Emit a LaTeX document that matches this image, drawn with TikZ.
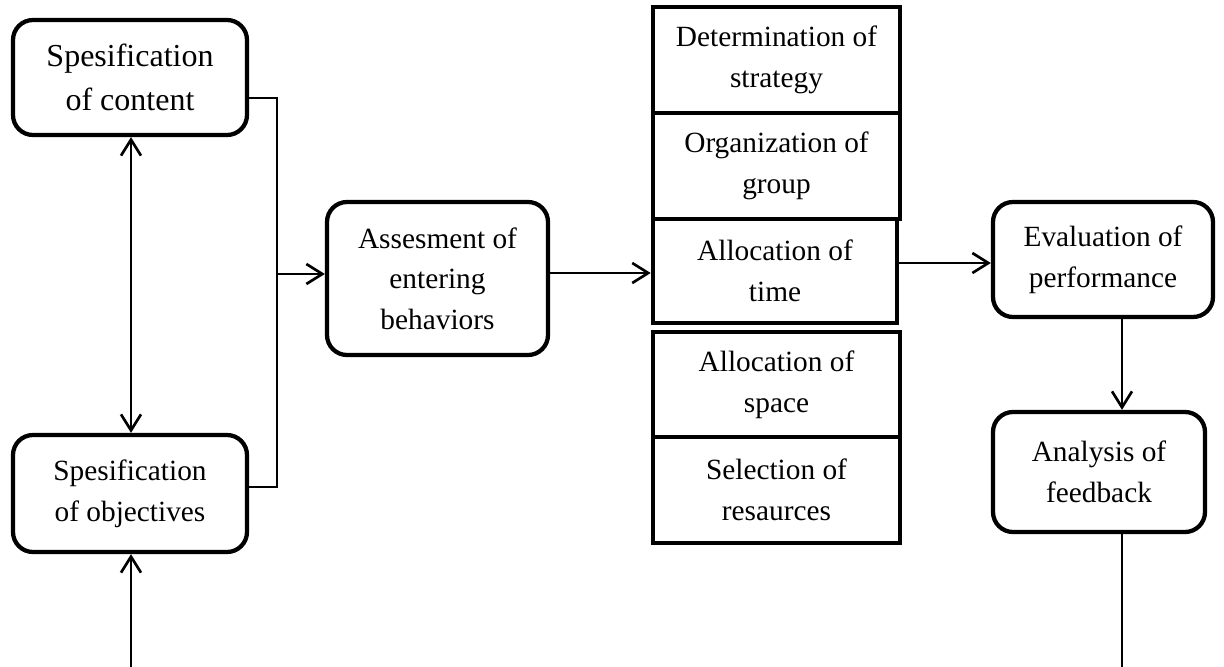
\documentclass[tikz,border=0pt]{standalone}
\usepackage{fontspec}
\setmainfont{Liberation Serif}
\usetikzlibrary{arrows.meta}

\tikzset{every picture/.style={line width=2pt}}
\tikzset{
  rbox/.style={draw,line width=3.2pt,rounded corners=15pt,inner sep=0pt,align=center,font=\fontsize{22}{30.5}\selectfont},
  sbox/.style={draw,line width=3.4pt,inner sep=0pt,align=center,font=\fontsize{22}{30.5}\selectfont},
  barb/.style={-{Straight Barb[length=12pt,width=15pt]}},
  thinline/.style={line width=1.2pt}
}

\begin{document}
\begin{tikzpicture}[x=0.75pt,y=0.75pt,yscale=-1,xscale=1]
\useasboundingbox (0,0) rectangle (1224,667);

%Rounded Rect: content
\node [rbox,minimum width=175.5pt,minimum height=86.25pt,font=\fontsize{24}{32.5}\selectfont] (content) at (130,77.5) {Spesification\\of content};
%Rounded Rect: objectives
\node [rbox,minimum width=175.5pt,minimum height=87.75pt] (objectives) at (130,493.5) {Spesification\\of objectives};
%Rounded Rect: assessment
\node [rbox,minimum width=165.75pt,minimum height=114.75pt] (assess) at (437.5,278.5) {Assesment of\\entering\\behaviors};

%Shape: Rectangle stack
\node [sbox,minimum width=185.25pt,minimum height=79.5pt] (strategy) at (776.5,60) {Determination of\\strategy};
\node [sbox,minimum width=185.25pt,minimum height=79.5pt] (group) at (776.5,166) {Organization of\\group};
\node [sbox,minimum width=183pt,minimum height=78pt] (time) at (775,271) {Allocation of\\time};
\node [sbox,minimum width=185.25pt,minimum height=78.75pt] (space) at (776.5,384.5) {Allocation of\\space};
\node [sbox,minimum width=185.25pt,minimum height=79.5pt] (resources) at (776.5,490) {Selection of\\resaurces};

%Rounded Rect: evaluation, feedback
\node [rbox,minimum width=165pt,minimum height=86.25pt] (eval) at (1103,259.5) {Evaluation of\\performance};
\node [rbox,minimum width=159pt,minimum height=90pt] (feedback) at (1099,472) {Analysis of\\feedback};

\coordinate (join) at (277,274);
\coordinate (objin) at (131,667);
\coordinate (fbout) at (1122,667);

%Straight Lines
\draw [thinline] (content.east |- 0,98) -- (277,98) -- (277,487) -- (objectives.east |- 0,487);
\draw [barb] (join) -- (join -| assess.west);
\draw [{Straight Barb[length=12pt,width=15pt]}-{Straight Barb[length=12pt,width=15pt]}] (content.south -| objin) -- (objectives.north -| objin);
\draw [barb] (objin) -- (objectives.south -| objin);
\draw [barb] (assess.east |- 0,273) -- (time.west |- 0,273);
\draw [barb] (time.east |- 0,263) -- (eval.west |- 0,263);
\draw [barb] (eval.south -| fbout) -- (feedback.north -| fbout);
\draw (feedback.south -| fbout) -- (fbout);

\end{tikzpicture}
\end{document}
